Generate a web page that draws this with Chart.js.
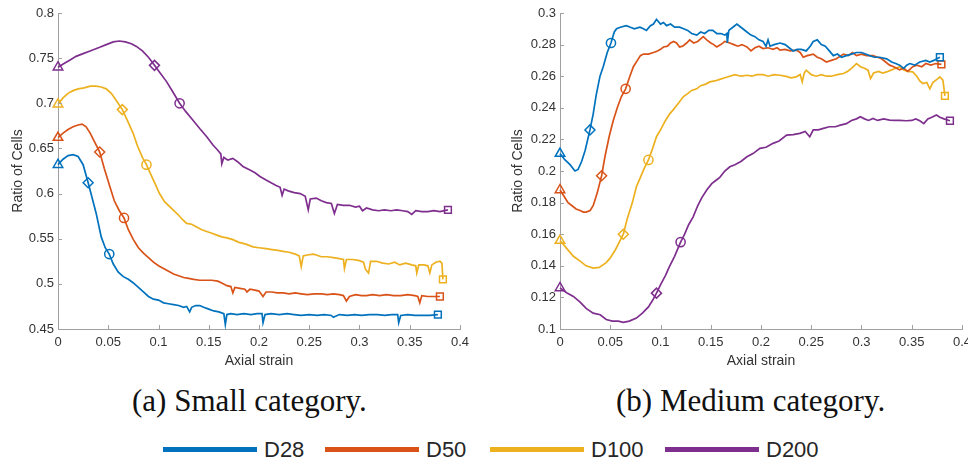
<!DOCTYPE html>
<html>
<head>
<meta charset="utf-8">
<script src="https://cdn.jsdelivr.net/npm/chart.js@4/dist/chart.umd.min.js"></script>
<style>
  html, body { margin:0; padding:0; width:968px; height:467px; overflow:hidden; background:#fff; }
  #c1 { position:absolute; left:0; top:0; }
  #c2 { position:absolute; left:480px; top:0; }
  .cap { position:absolute; top:385px; font-family:"Liberation Serif","Times New Roman",serif; font-size:31px; line-height:31px; color:#111; white-space:nowrap; }
  .lg-line { position:absolute; top:447px; width:94px; height:5px; }
  .lg-text { position:absolute; top:439px; font-family:"Liberation Sans",Arial,sans-serif; font-size:22px; line-height:22px; color:#262626; white-space:nowrap; }
</style>
</head>
<body>
<canvas id="c1" width="480" height="372"></canvas>
<canvas id="c2" width="500" height="372"></canvas>
<div class="cap" style="left:132px">(a) Small category.</div>
<div class="cap" style="left:616px">(b) Medium category.</div>
<div id="legend"></div>
<script>
// ---------- data ----------
const seriesNames = ['D28', 'D50', 'D100', 'D200'];
const seriesColors = ['#0072BD', '#D95319', '#EDB120', '#7E2F8E'];

const xTicksLabel = 'Axial strain';
const yTitle = 'Ratio of Cells';
const smallYRange = [0.45, 0.8, 0.05];
const mediumYRange = [0.1, 0.3, 0.02];
const xRange = [0, 0.4, 0.05];

// Small category
const smallD28 = [[0,0.632],[0.005,0.638],[0.010,0.642],[0.015,0.643],[0.020,0.641],[0.025,0.632],[0.030,0.612],[0.034,0.595],[0.038,0.578],[0.043,0.552],[0.047,0.540],[0.051,0.533],[0.055,0.522],[0.060,0.513],[0.065,0.508],[0.070,0.505],[0.075,0.501],[0.080,0.496],[0.085,0.491],[0.090,0.486],[0.095,0.483],[0.100,0.482],[0.105,0.479],[0.110,0.478],[0.115,0.477],[0.120,0.476],[0.125,0.474],[0.128,0.475],[0.131,0.469],[0.133,0.474],[0.137,0.476],[0.141,0.476],[0.145,0.474],[0.150,0.472],[0.155,0.470],[0.160,0.469],[0.165,0.467],[0.1665,0.455],[0.168,0.466],[0.172,0.467],[0.178,0.466],[0.185,0.467],[0.192,0.466],[0.198,0.467],[0.203,0.467],[0.204,0.457],[0.206,0.466],[0.212,0.467],[0.220,0.466],[0.228,0.467],[0.235,0.466],[0.242,0.465],[0.250,0.466],[0.258,0.465],[0.265,0.466],[0.272,0.465],[0.274,0.463],[0.280,0.466],[0.288,0.465],[0.295,0.466],[0.302,0.465],[0.310,0.466],[0.318,0.466],[0.325,0.465],[0.332,0.466],[0.338,0.466],[0.339,0.457],[0.341,0.465],[0.348,0.466],[0.355,0.465],[0.362,0.465],[0.370,0.465],[0.378,0.466]];
const smallD50 = [[0,0.662],[0.005,0.667],[0.010,0.671],[0.015,0.674],[0.020,0.676],[0.024,0.677],[0.028,0.674],[0.032,0.667],[0.036,0.658],[0.0415,0.646],[0.046,0.628],[0.0515,0.608],[0.056,0.592],[0.061,0.581],[0.0657,0.573],[0.070,0.560],[0.075,0.549],[0.080,0.540],[0.085,0.534],[0.090,0.529],[0.095,0.524],[0.100,0.520],[0.105,0.517],[0.110,0.514],[0.115,0.511],[0.120,0.509],[0.125,0.507],[0.130,0.506],[0.135,0.505],[0.141,0.504],[0.147,0.504],[0.153,0.504],[0.159,0.503],[0.163,0.501],[0.168,0.498],[0.172,0.497],[0.174,0.490],[0.176,0.496],[0.181,0.495],[0.186,0.494],[0.188,0.491],[0.191,0.494],[0.196,0.493],[0.200,0.492],[0.204,0.486],[0.207,0.491],[0.213,0.491],[0.218,0.490],[0.224,0.490],[0.230,0.489],[0.236,0.490],[0.242,0.489],[0.248,0.488],[0.255,0.489],[0.262,0.489],[0.268,0.488],[0.274,0.489],[0.280,0.488],[0.284,0.487],[0.287,0.481],[0.290,0.486],[0.296,0.488],[0.302,0.487],[0.307,0.487],[0.313,0.488],[0.320,0.487],[0.327,0.488],[0.334,0.487],[0.341,0.487],[0.348,0.488],[0.355,0.487],[0.358,0.486],[0.360,0.479],[0.362,0.487],[0.368,0.486],[0.374,0.486],[0.380,0.486]];
const smallD100 = [[0,0.699],[0.005,0.706],[0.010,0.711],[0.015,0.714],[0.020,0.716],[0.026,0.717],[0.032,0.719],[0.038,0.719],[0.043,0.718],[0.048,0.716],[0.053,0.711],[0.058,0.703],[0.064,0.693],[0.069,0.681],[0.0747,0.667],[0.079,0.653],[0.084,0.640],[0.088,0.632],[0.092,0.622],[0.097,0.610],[0.101,0.600],[0.106,0.591],[0.1145,0.582],[0.120,0.576],[0.124,0.571],[0.128,0.567],[0.133,0.566],[0.138,0.563],[0.143,0.560],[0.148,0.558],[0.153,0.556],[0.158,0.554],[0.163,0.552],[0.168,0.551],[0.174,0.549],[0.180,0.546],[0.187,0.544],[0.194,0.541],[0.200,0.540],[0.207,0.539],[0.213,0.538],[0.219,0.537],[0.224,0.536],[0.230,0.535],[0.236,0.533],[0.240,0.531],[0.242,0.519],[0.244,0.531],[0.248,0.532],[0.254,0.533],[0.257,0.532],[0.262,0.530],[0.268,0.530],[0.274,0.529],[0.280,0.528],[0.284,0.527],[0.285,0.517],[0.287,0.527],[0.293,0.527],[0.299,0.526],[0.304,0.524],[0.306,0.516],[0.309,0.512],[0.311,0.525],[0.317,0.525],[0.323,0.523],[0.329,0.522],[0.335,0.524],[0.340,0.521],[0.346,0.523],[0.352,0.521],[0.356,0.520],[0.357,0.512],[0.359,0.521],[0.364,0.521],[0.368,0.520],[0.370,0.512],[0.372,0.521],[0.376,0.524],[0.380,0.525],[0.382,0.523],[0.383,0.505]];
const smallD200 = [[0,0.740],[0.006,0.744],[0.012,0.748],[0.018,0.752],[0.025,0.755],[0.032,0.758],[0.0415,0.762],[0.048,0.765],[0.055,0.768],[0.061,0.769],[0.067,0.768],[0.073,0.766],[0.078,0.763],[0.084,0.758],[0.090,0.751],[0.096,0.742],[0.102,0.733],[0.108,0.724],[0.114,0.713],[0.121,0.700],[0.127,0.691],[0.1345,0.681],[0.141,0.672],[0.148,0.663],[0.154,0.654],[0.159,0.648],[0.162,0.644],[0.163,0.633],[0.165,0.640],[0.169,0.637],[0.174,0.639],[0.179,0.635],[0.184,0.630],[0.191,0.626],[0.196,0.623],[0.201,0.619],[0.207,0.615],[0.212,0.612],[0.217,0.609],[0.221,0.607],[0.223,0.598],[0.225,0.605],[0.229,0.603],[0.235,0.601],[0.241,0.600],[0.246,0.597],[0.249,0.582],[0.251,0.594],[0.257,0.595],[0.262,0.592],[0.267,0.590],[0.272,0.589],[0.275,0.578],[0.278,0.588],[0.284,0.587],[0.290,0.587],[0.296,0.585],[0.300,0.586],[0.303,0.581],[0.307,0.584],[0.313,0.582],[0.319,0.581],[0.325,0.582],[0.331,0.581],[0.337,0.582],[0.343,0.581],[0.348,0.580],[0.352,0.577],[0.356,0.581],[0.362,0.580],[0.368,0.580],[0.374,0.581],[0.380,0.580],[0.388,0.582]];
const smallMarkers = [[0.030,0.051],[0.0415,0.0657],[0.064,0.088],[0.096,0.121]]; // diamond x, circle x

// Medium category
const mediumD28 = [[0,0.211],[0.005,0.207],[0.010,0.204],[0.0149,0.200],[0.018,0.201],[0.0215,0.206],[0.025,0.213],[0.0298,0.226],[0.033,0.236],[0.036,0.248],[0.0398,0.260],[0.043,0.266],[0.047,0.275],[0.0507,0.281],[0.054,0.288],[0.0563,0.290],[0.060,0.291],[0.066,0.292],[0.070,0.291],[0.074,0.290],[0.0795,0.291],[0.083,0.290],[0.086,0.289],[0.090,0.292],[0.093,0.293],[0.096,0.296],[0.100,0.293],[0.103,0.294],[0.106,0.292],[0.110,0.293],[0.114,0.291],[0.119,0.291],[0.123,0.290],[0.127,0.289],[0.131,0.287],[0.136,0.286],[0.140,0.288],[0.144,0.287],[0.148,0.289],[0.152,0.289],[0.156,0.287],[0.160,0.287],[0.164,0.286],[0.166,0.287],[0.1665,0.281],[0.168,0.289],[0.172,0.291],[0.176,0.293],[0.180,0.291],[0.186,0.288],[0.190,0.286],[0.194,0.285],[0.198,0.283],[0.202,0.282],[0.205,0.279],[0.207,0.283],[0.209,0.279],[0.213,0.280],[0.219,0.281],[0.224,0.280],[0.228,0.278],[0.232,0.276],[0.236,0.277],[0.240,0.277],[0.245,0.276],[0.249,0.279],[0.252,0.282],[0.256,0.283],[0.260,0.280],[0.264,0.279],[0.268,0.276],[0.272,0.273],[0.276,0.274],[0.280,0.272],[0.285,0.273],[0.290,0.274],[0.295,0.275],[0.300,0.275],[0.304,0.274],[0.308,0.273],[0.313,0.272],[0.318,0.272],[0.325,0.271],[0.330,0.269],[0.334,0.268],[0.338,0.267],[0.342,0.265],[0.345,0.267],[0.348,0.268],[0.353,0.267],[0.358,0.269],[0.364,0.270],[0.368,0.269],[0.372,0.270],[0.375,0.271],[0.378,0.272]];
const mediumD50 = [[0,0.188],[0.004,0.184],[0.008,0.180],[0.012,0.178],[0.016,0.176],[0.020,0.175],[0.0232,0.174],[0.026,0.174],[0.030,0.175],[0.033,0.178],[0.037,0.186],[0.0414,0.197],[0.045,0.210],[0.049,0.222],[0.053,0.232],[0.057,0.240],[0.061,0.247],[0.0653,0.252],[0.069,0.259],[0.073,0.266],[0.077,0.270],[0.080,0.273],[0.083,0.274],[0.088,0.274],[0.093,0.275],[0.097,0.276],[0.100,0.277],[0.103,0.2785],[0.107,0.279],[0.110,0.281],[0.113,0.282],[0.116,0.281],[0.119,0.2785],[0.122,0.279],[0.126,0.281],[0.129,0.283],[0.133,0.281],[0.137,0.282],[0.1425,0.285],[0.146,0.283],[0.150,0.281],[0.153,0.280],[0.156,0.2785],[0.160,0.280],[0.164,0.282],[0.169,0.281],[0.173,0.280],[0.177,0.279],[0.181,0.280],[0.186,0.2785],[0.190,0.276],[0.194,0.278],[0.198,0.279],[0.202,0.2775],[0.207,0.278],[0.212,0.277],[0.216,0.278],[0.219,0.2765],[0.224,0.277],[0.229,0.276],[0.235,0.2765],[0.239,0.275],[0.242,0.272],[0.246,0.273],[0.252,0.274],[0.256,0.272],[0.260,0.271],[0.265,0.269],[0.270,0.270],[0.275,0.271],[0.282,0.274],[0.287,0.273],[0.291,0.275],[0.295,0.273],[0.300,0.274],[0.305,0.273],[0.3115,0.273],[0.316,0.272],[0.320,0.271],[0.324,0.269],[0.328,0.267],[0.332,0.266],[0.335,0.265],[0.338,0.264],[0.342,0.265],[0.346,0.263],[0.351,0.266],[0.355,0.267],[0.360,0.266],[0.364,0.268],[0.369,0.267],[0.374,0.268],[0.3795,0.2675]];
const mediumD100 = [[0,0.156],[0.0066,0.151],[0.0133,0.146],[0.020,0.143],[0.026,0.140],[0.033,0.1385],[0.039,0.139],[0.046,0.142],[0.050,0.145],[0.055,0.150],[0.059,0.155],[0.063,0.160],[0.067,0.170],[0.072,0.180],[0.076,0.190],[0.080,0.196],[0.084,0.202],[0.088,0.207],[0.092,0.214],[0.096,0.2217],[0.100,0.226],[0.105,0.232],[0.109,0.236],[0.113,0.239],[0.118,0.243],[0.1226,0.247],[0.127,0.249],[0.131,0.251],[0.136,0.252],[0.140,0.254],[0.145,0.255],[0.149,0.2564],[0.154,0.257],[0.159,0.258],[0.164,0.259],[0.169,0.260],[0.174,0.261],[0.180,0.260],[0.186,0.2606],[0.191,0.260],[0.196,0.261],[0.202,0.261],[0.207,0.260],[0.213,0.261],[0.219,0.2606],[0.224,0.260],[0.230,0.259],[0.235,0.2596],[0.239,0.261],[0.241,0.2564],[0.243,0.262],[0.245,0.2638],[0.250,0.261],[0.255,0.260],[0.260,0.261],[0.265,0.260],[0.270,0.260],[0.276,0.261],[0.282,0.2617],[0.286,0.263],[0.290,0.265],[0.295,0.268],[0.299,0.266],[0.303,0.265],[0.3065,0.2638],[0.309,0.2585],[0.312,0.262],[0.317,0.263],[0.321,0.262],[0.325,0.2627],[0.330,0.264],[0.334,0.265],[0.338,0.266],[0.342,0.264],[0.346,0.263],[0.351,0.2627],[0.355,0.260],[0.358,0.257],[0.361,0.2554],[0.365,0.256],[0.368,0.252],[0.371,0.256],[0.375,0.258],[0.378,0.2596],[0.381,0.2575],[0.383,0.2476]];
const mediumD200 = [[0,0.126],[0.0066,0.123],[0.0133,0.1206],[0.020,0.117],[0.026,0.113],[0.033,0.110],[0.040,0.109],[0.046,0.106],[0.052,0.105],[0.058,0.105],[0.063,0.1042],[0.069,0.105],[0.076,0.1069],[0.082,0.110],[0.088,0.114],[0.092,0.118],[0.096,0.1227],[0.100,0.128],[0.105,0.134],[0.109,0.1396],[0.114,0.146],[0.120,0.155],[0.124,0.160],[0.128,0.166],[0.1325,0.171],[0.137,0.178],[0.141,0.183],[0.146,0.188],[0.151,0.192],[0.155,0.194],[0.159,0.196],[0.164,0.200],[0.169,0.2027],[0.174,0.204],[0.180,0.206],[0.186,0.209],[0.192,0.211],[0.199,0.2143],[0.205,0.215],[0.212,0.2175],[0.218,0.219],[0.2255,0.2227],[0.232,0.223],[0.2386,0.2238],[0.244,0.225],[0.2485,0.2217],[0.252,0.226],[0.257,0.226],[0.262,0.227],[0.268,0.228],[0.274,0.228],[0.279,0.229],[0.285,0.230],[0.290,0.232],[0.295,0.233],[0.2989,0.2343],[0.303,0.233],[0.307,0.232],[0.3115,0.2333],[0.316,0.232],[0.322,0.233],[0.328,0.2322],[0.333,0.232],[0.338,0.232],[0.3446,0.2318],[0.350,0.232],[0.354,0.233],[0.358,0.2318],[0.362,0.230],[0.366,0.233],[0.370,0.234],[0.3745,0.2354],[0.378,0.234],[0.382,0.233],[0.388,0.2318]];
const mediumMarkers = [[0.0298,0.0507],[0.0414,0.0653],[0.063,0.088],[0.096,0.120]];

// ---------- building ----------
const axisColor = '#a0a0a0';
const textColor = '#333333';
const fontFamily = '"Liberation Sans", Arial, sans-serif';
const markerRadius = { triangle: 5.5, rect: 4.8, rectRot: 5, circle: 4.6 };

function makeDataset(points, idx, marks) {
  const last = points.length - 1;
  const styles = points.map((p, i) => {
    if (i === 0) return 'triangle';
    if (i === last) return 'rect';
    if (p[0] === marks[0]) return 'rectRot';
    if (p[0] === marks[1]) return 'circle';
    return false;
  });
  return {
    label: seriesNames[idx],
    data: points.map(p => ({x: p[0], y: p[1]})),
    borderColor: seriesColors[idx],
    backgroundColor: 'rgba(0,0,0,0)',
    borderWidth: 1.7,
    tension: 0,
    clip: false,
    pointStyle: styles.map(s => s || 'circle'),
    pointRadius: styles.map(s => s ? markerRadius[s] : 0),
    pointBorderWidth: 1.5,
    pointBorderColor: seriesColors[idx],
    pointBackgroundColor: 'rgba(0,0,0,0)',
    pointHoverRadius: 0,
  };
}

const innerTicks = {
  id: 'innerTicks',
  afterDraw(chart) {
    const {ctx, chartArea: a, scales: {x, y}} = chart;
    ctx.save();
    ctx.strokeStyle = axisColor;
    ctx.lineWidth = 1;
    ctx.beginPath();
    x.ticks.forEach(t => {
      const px = Math.round(x.getPixelForValue(t.value)) + 0.5;
      ctx.moveTo(px, a.bottom); ctx.lineTo(px, a.bottom - 4);
    });
    y.ticks.forEach(t => {
      const py = Math.round(y.getPixelForValue(t.value)) + 0.5;
      ctx.moveTo(a.left, py); ctx.lineTo(a.left + 4, py);
    });
    ctx.stroke();
    ctx.restore();
  }
};

function fmt(v) { return String(parseFloat(Number(v).toFixed(3))); }

function makeChart(id, sets, marks, yr, leftPad, yWidth, rightPad) {
  return new Chart(document.getElementById(id), {
    type: 'line',
    data: { datasets: sets.map((s, i) => makeDataset(s, i, marks[i])) },
    options: {
      responsive: false,
      animation: false,
      events: [],
      layout: { padding: { left: leftPad, top: 13, right: rightPad, bottom: 2 } },
      plugins: { legend: { display: false }, tooltip: { enabled: false } },
      scales: {
        x: {
          type: 'linear', min: xRange[0], max: xRange[1],
          grid: { display: false, drawTicks: false },
          border: { display: true, color: axisColor, width: 1 },
          ticks: { stepSize: xRange[2], padding: 6, color: textColor, font: { family: fontFamily, size: 13 }, callback: fmt, maxRotation: 0, autoSkip: false },
          title: { display: true, text: xTicksLabel, color: textColor, font: { family: fontFamily, size: 14 }, padding: { top: 0, bottom: 0 } },
          afterFit(s) { s.height = 41; }
        },
        y: {
          type: 'linear', min: yr[0], max: yr[1],
          grid: { display: false, drawTicks: false },
          border: { display: true, color: axisColor, width: 1 },
          ticks: { stepSize: yr[2], padding: 4, color: textColor, font: { family: fontFamily, size: 13 }, callback: fmt, autoSkip: false },
          title: { display: true, text: yTitle, color: textColor, font: { family: fontFamily, size: 14 }, padding: { top: 0, bottom: 0 } },
          afterFit(s) { s.width = yWidth; }
        }
      }
    },
    plugins: [innerTicks]
  });
}

makeChart('c1', [smallD28, smallD50, smallD100, smallD200], smallMarkers, smallYRange, 10, 48, 20);
makeChart('c2', [mediumD28, mediumD50, mediumD100, mediumD200], mediumMarkers, mediumYRange, 30, 50, 18);

// ---------- legend ----------
const legendLineLeft = [163, 325, 490, 665];
const legend = document.getElementById('legend');
seriesNames.forEach((n, i) => {
  const l = document.createElement('div');
  l.className = 'lg-line';
  l.style.left = legendLineLeft[i] + 'px';
  l.style.background = seriesColors[i];
  legend.appendChild(l);
  const t = document.createElement('div');
  t.className = 'lg-text';
  t.style.left = (legendLineLeft[i] + 101) + 'px';
  t.textContent = n;
  legend.appendChild(t);
});
</script>
</body>
</html>
